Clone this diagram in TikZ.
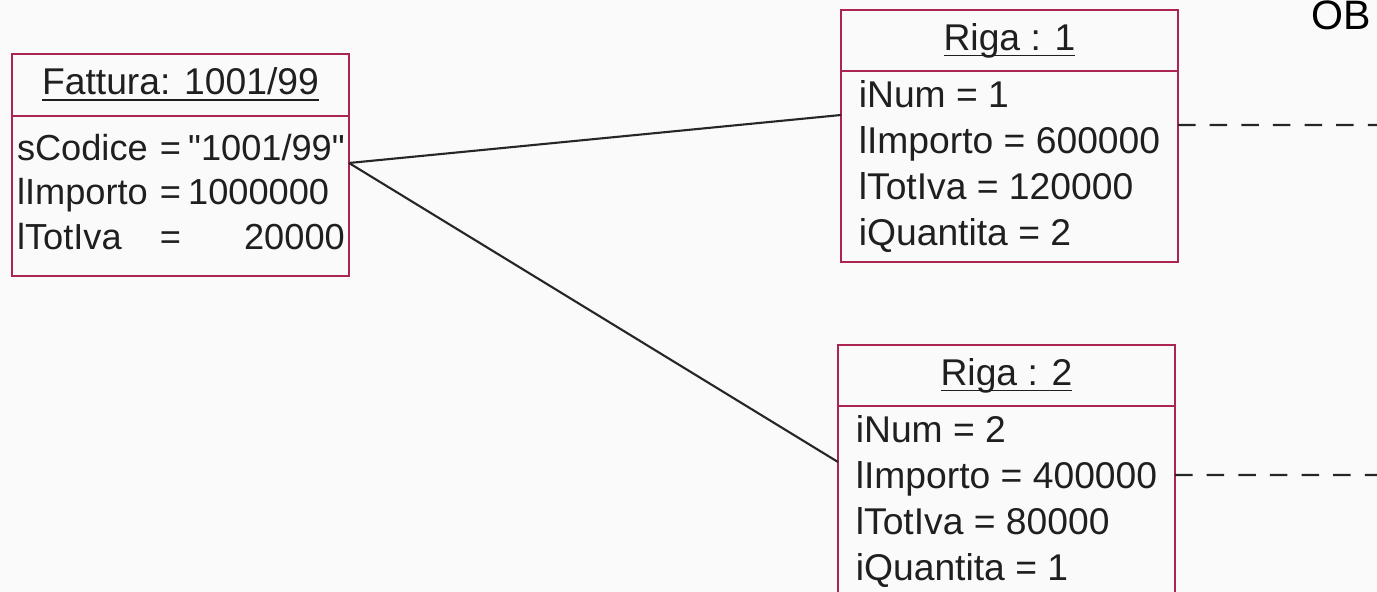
\documentclass[tikz,border=0pt]{standalone}
\usepackage{fontspec}
\setmainfont{Liberation Sans}[Ligatures=TeXOff]
\usetikzlibrary{positioning}

\definecolor{objred}{RGB}{172,36,84}
\definecolor{paper}{RGB}{250,250,250}

% underlined object name, underline kept close to the baseline
\newcommand{\objname}[1]{\underline{\raisebox{0pt}[\height][0pt]{#1}}}

\begin{document}
\begin{tikzpicture}[
    objhead/.style={draw=objred, line width=0.7pt, outer sep=0pt,
        minimum width=3.37cm, minimum height=0.61cm, inner sep=0pt,
        text=black!88, font=\fontsize{10.6}{13}\selectfont},
    objbody/.style={draw=objred, line width=0.7pt, outer sep=0pt,
        minimum width=3.37cm, minimum height=1.91cm, inner ysep=0pt,
        align=left, text=black!88, font=\fontsize{10.6}{13}\selectfont},
    link/.style={line width=0.6pt, black!85},
    dashlink/.style={link, dash pattern=on 5pt off 4pt},
]
    \fill[paper] (0,0) rectangle (13.77,-5.92);
    \useasboundingbox (0,0) rectangle (13.77,-5.92);

    % invoice object
    \node[objhead, minimum height=0.62cm, anchor=north west] (fatt) at (0.12,-0.54)
        {\objname{Fattura: 1001/99}};
    \node[objbody, below=0pt of fatt, minimum height=1.60cm, inner xsep=0.05cm,
        text width=3.27cm, font=\fontsize{10.3}{12.7}\selectfont] (fattb)
        {\begin{tabular}{@{}l@{ }c@{\hspace{0.2em}}l@{}}
            sCodice & = & "1001/99" \\
            lImporto & = & 1000000 \\
            lTotIva & = & \hfill 20000
        \end{tabular}};

    % invoice rows
    \node[objhead, anchor=north west] (r1) at (8.41,-0.10)
        {\objname{Riga : 1}};
    \node[objbody, below=0pt of r1] (r1b)
        {iNum = 1\\ lImporto = 600000\\ lTotIva = 120000\\ iQuantita = 2};

    \node[objhead, anchor=north west] (r2) at (8.38,-3.45)
        {\objname{Riga : 2}};
    \node[objbody, below=0pt of r2] (r2b)
        {iNum = 2\\ lImporto = 400000\\ lTotIva = 80000\\ iQuantita = 1};

    \node[anchor=base west, inner sep=0pt, font=\fontsize{11.7}{14}\selectfont]
        (title) at (13.11,-0.30) {OB};

    % links
    \coordinate (jn) at ([yshift=-0.47cm]fattb.north east);
    \draw[link] (jn) -- ([yshift=-0.44cm]r1b.north west);
    \draw[link] (jn) -- ([yshift=-0.56cm]r2b.north west);

    \coordinate (r1out) at (13.9,-1.25);
    \coordinate (r2out) at (13.9,-4.75);
    \draw[dashlink] ([yshift=-0.54cm]r1b.north east) -- (r1out);
    \draw[dashlink] ([yshift=-0.69cm]r2b.north east) -- (r2out);
\end{tikzpicture}
\end{document}
